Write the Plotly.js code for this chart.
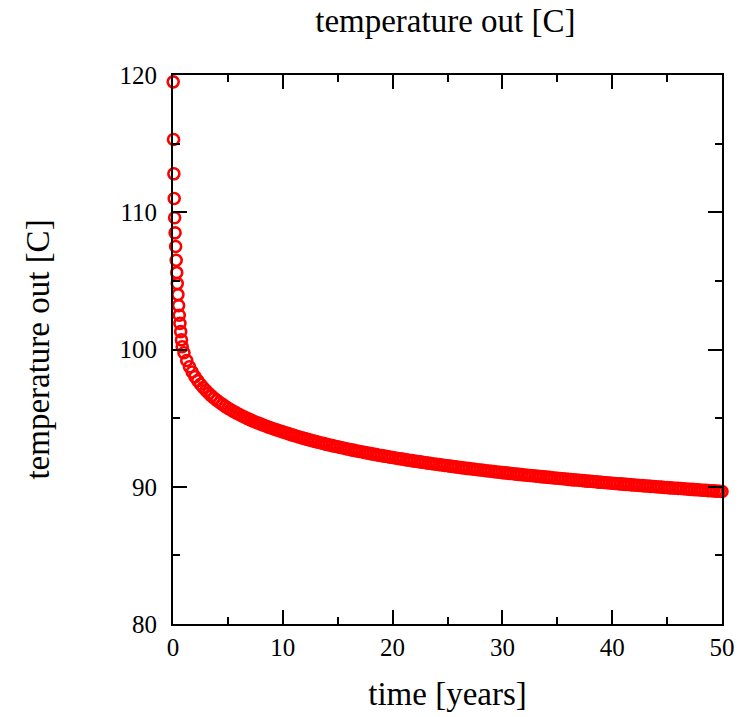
<!DOCTYPE html>
<html>
<head>
<meta charset="utf-8">
<script src="https://cdn.plot.ly/plotly-3.0.1.min.js"></script>
<style>html,body{margin:0;padding:0;background:#fff;}</style>
</head>
<body>
<div id="chart" style="width:741px;height:717px;"></div>
<script>
// time [years]
const timeYears = [
  0.02, 0.05, 0.08, 0.11, 0.15, 0.19, 0.24, 0.29, 0.34, 0.39, 0.45, 0.51, 0.57, 0.63, 0.70, 0.77, 0.84,
  1.00, 1.25, 1.50, 1.75, 2.00, 2.25, 2.50, 2.75, 3.00, 3.25, 3.50, 3.75, 4.00, 4.25, 4.50, 4.75,
  5.00, 5.25, 5.50, 5.75, 6.00, 6.25, 6.50, 6.75, 7.00, 7.25, 7.50, 7.75, 8.00, 8.25, 8.50, 8.75,
  9.00, 9.25, 9.50, 9.75, 10.00, 10.25, 10.50, 10.75, 11.00, 11.25, 11.50, 11.75, 12.00, 12.25, 12.50, 12.75,
  13.00, 13.25, 13.50, 13.75, 14.00, 14.25, 14.50, 14.75, 15.00, 15.25, 15.50, 15.75, 16.00, 16.25, 16.50, 16.75,
  17.00, 17.25, 17.50, 17.75, 18.00, 18.25, 18.50, 18.75, 19.00, 19.25, 19.50, 19.75, 20.00, 20.25, 20.50, 20.75,
  21.00, 21.25, 21.50, 21.75, 22.00, 22.25, 22.50, 22.75, 23.00, 23.25, 23.50, 23.75, 24.00, 24.25, 24.50, 24.75,
  25.00, 25.25, 25.50, 25.75, 26.00, 26.25, 26.50, 26.75, 27.00, 27.25, 27.50, 27.75, 28.00, 28.25, 28.50, 28.75,
  29.00, 29.25, 29.50, 29.75, 30.00, 30.25, 30.50, 30.75, 31.00, 31.25, 31.50, 31.75, 32.00, 32.25, 32.50, 32.75,
  33.00, 33.25, 33.50, 33.75, 34.00, 34.25, 34.50, 34.75, 35.00, 35.25, 35.50, 35.75, 36.00, 36.25, 36.50, 36.75,
  37.00, 37.25, 37.50, 37.75, 38.00, 38.25, 38.50, 38.75, 39.00, 39.25, 39.50, 39.75, 40.00, 40.25, 40.50, 40.75,
  41.00, 41.25, 41.50, 41.75, 42.00, 42.25, 42.50, 42.75, 43.00, 43.25, 43.50, 43.75, 44.00, 44.25, 44.50, 44.75,
  45.00, 45.25, 45.50, 45.75, 46.00, 46.25, 46.50, 46.75, 47.00, 47.25, 47.50, 47.75, 48.00, 48.25, 48.50, 48.75,
  49.00, 49.25, 49.50, 49.75, 50.00
];

// temperature out [C]
const temperatureOut = [
  119.5, 115.3, 112.8, 111.0, 109.6, 108.5, 107.5, 106.5, 105.6, 104.8, 104.0, 103.2, 102.5, 101.9, 101.3, 100.7, 100.2,
  99.76, 99.20, 98.74, 98.36, 98.02, 97.73, 97.47, 97.23, 97.01, 96.81, 96.62, 96.45, 96.29, 96.14, 96.00, 95.86,
  95.73, 95.61, 95.49, 95.38, 95.28, 95.17, 95.08, 94.98, 94.89, 94.80, 94.72, 94.64, 94.56, 94.48, 94.41, 94.33,
  94.26, 94.19, 94.13, 94.06, 94.00, 93.93, 93.87, 93.80, 93.74, 93.68, 93.62, 93.56, 93.51, 93.45, 93.40, 93.34,
  93.29, 93.24, 93.19, 93.14, 93.09, 93.04, 93.00, 92.95, 92.91, 92.86, 92.82, 92.77, 92.73, 92.69, 92.65, 92.61,
  92.57, 92.53, 92.49, 92.45, 92.41, 92.38, 92.34, 92.30, 92.27, 92.23, 92.20, 92.16, 92.13, 92.09, 92.06, 92.03,
  92.00, 91.96, 91.93, 91.90, 91.87, 91.84, 91.81, 91.78, 91.75, 91.72, 91.69, 91.66, 91.64, 91.61, 91.58, 91.55,
  91.53, 91.50, 91.47, 91.45, 91.42, 91.39, 91.37, 91.34, 91.32, 91.29, 91.27, 91.24, 91.22, 91.20, 91.17, 91.15,
  91.13, 91.10, 91.08, 91.06, 91.03, 91.01, 90.99, 90.97, 90.95, 90.92, 90.90, 90.88, 90.86, 90.84, 90.82, 90.80,
  90.78, 90.76, 90.74, 90.72, 90.70, 90.68, 90.66, 90.64, 90.62, 90.60, 90.58, 90.56, 90.54, 90.52, 90.50, 90.49,
  90.47, 90.45, 90.43, 90.41, 90.40, 90.38, 90.36, 90.34, 90.33, 90.31, 90.29, 90.27, 90.26, 90.24, 90.22, 90.21,
  90.19, 90.17, 90.16, 90.14, 90.13, 90.11, 90.09, 90.08, 90.06, 90.05, 90.03, 90.02, 90.00, 89.98, 89.97, 89.95,
  89.94, 89.92, 89.91, 89.89, 89.88, 89.87, 89.85, 89.84, 89.82, 89.81, 89.79, 89.78, 89.76, 89.75, 89.74, 89.72,
  89.71, 89.70, 89.68, 89.67, 89.65
];

const xTickVals = [0, 10, 20, 30, 40, 50];
const yTickVals = [80, 90, 100, 110, 120];

const serif = "'Liberation Serif', 'DejaVu Serif', serif";

const trace = {
  x: timeYears,
  y: temperatureOut,
  type: 'scatter',
  mode: 'markers',
  marker: {
    symbol: 'circle-open',
    size: 11,
    color: '#ff0000',
    line: {width: 2.6, color: '#ff0000'}
  },
  cliponaxis: false,
  showlegend: false,
  hoverinfo: 'x+y'
};

const axisCommon = {
  showline: true,
  linecolor: '#000',
  linewidth: 2,
  mirror: 'ticks',
  ticks: 'inside',
  ticklen: 14,
  tickwidth: 2,
  tickcolor: '#000',
  showgrid: false,
  zeroline: false,
  tickfont: {family: serif, size: 25, color: '#000'},
  minor: {dtick: 5, ticks: 'inside', ticklen: 7, tickwidth: 2, tickcolor: '#000', showgrid: false}
};

const layout = {
  width: 741,
  height: 717,
  margin: {l: 173, r: 19, t: 75, b: 93},
  paper_bgcolor: '#fff',
  plot_bgcolor: '#fff',
  font: {family: serif, color: '#000'},
  title: {
    text: 'temperature out [C]',
    font: {family: serif, size: 33, color: '#000'},
    x: 0.601, xanchor: 'center',
    y: 0.972, yanchor: 'middle'
  },
  xaxis: Object.assign({}, axisCommon, {
    range: [0, 50],
    tickvals: xTickVals,
    ticktext: xTickVals.map(String),
    ticklabelstandoff: 0,
    title: {text: 'time [years]', font: {family: serif, size: 33, color: '#000'}, standoff: 22}
  }),
  yaxis: Object.assign({}, axisCommon, {
    range: [80, 120],
    tickvals: yTickVals,
    ticktext: yTickVals.map(String),
    ticklabelstandoff: 9,
    title: {text: 'temperature out [C]', font: {family: serif, size: 33, color: '#000'}, standoff: 60}
  })
};

Plotly.newPlot('chart', [trace], layout, {displayModeBar: false, staticPlot: true});
</script>
</body>
</html>
